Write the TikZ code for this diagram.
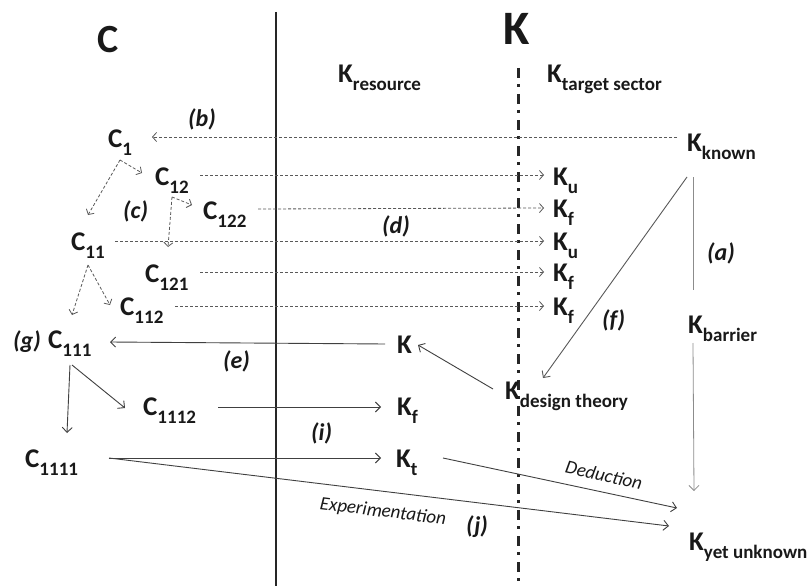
\documentclass[tikz,border=0pt]{standalone}
\usepackage{fontspec}
\setmainfont{Carlito}
\usetikzlibrary{arrows.meta}
\newcommand{\subx}[1]{\raisebox{-8pt}{\fontsize{19}{19}\selectfont #1}}
\begin{document}
\begin{tikzpicture}[x=1pt,y=-1pt,
  every node/.style={inner sep=0pt, anchor=base west, text=black!90},
  nm/.style={font=\fontsize{27}{27}\selectfont\bfseries},
  big/.style={font=\fontsize{#1}{#1}\selectfont\bfseries},
  tag/.style={font=\fontsize{24}{24}\selectfont\bfseries\itshape},
  capt/.style={font=\fontsize{19}{19}\selectfont\itshape, anchor=center},
  darr/.style={draw=black!65, line width=0.8pt, dash pattern=on 3pt off 2pt, -{Straight Barb[length=4pt,width=9pt]}},
  sarr/.style={draw=black!75, line width=0.9pt, -{Straight Barb[length=5pt,width=10pt]}},
  garr/.style={draw=black!45, line width=0.8pt},
]
\useasboundingbox (0,0) rectangle (812,586);
\fill[white] (0,0) rectangle (812,586);

% separators
\draw[line width=2pt, black!85] (276,12) -- (276,586);
\draw[line width=3pt, black!85, dash pattern=on 10pt off 6pt on 3pt off 7pt] (518,68) -- (518,586);

% headings
\node[big=40] (bigC) at (97,53) {C};
\node[big=48] (bigK) at (503,45) {K};
\node[nm] (kres) at (338,83) {K\subx{resource}};
\node[nm] (ktar) at (547,83) {K\subx{target sector}};

% C side
\node[nm] (c1) at (108,147) {C\subx{1}};
\node[nm] (c12) at (155,185) {C\subx{12}};
\node[nm] (c122) at (203,219) {C\subx{122}};
\node[nm] (c11) at (71,250) {C\subx{11}};
\node[nm] (c121) at (145,282) {C\subx{121}};
\node[nm] (c112) at (120,315) {C\subx{112}};
\node[nm] (c111) at (48,348) {C\subx{111}};
\node[nm] (c1112) at (143,415) {C\subx{1112}};
\node[nm] (c1111) at (25,467) {C\subx{1111}};

% K side
\node[nm] (kknown) at (687,151) {K\subx{known}};
\node[nm] (ku1) at (553,185) {K\subx{u}};
\node[nm] (kf1) at (553,217) {K\subx{f}};
\node[nm] (ku2) at (553,250) {K\subx{u}};
\node[nm] (kf2) at (553,281) {K\subx{f}};
\node[nm] (kf3) at (553,315) {K\subx{f}};
\node[nm] (kbar) at (688,333) {K\subx{barrier}};
\node[nm] (kmid) at (397,353) {K};
\node[nm] (kdes) at (505,399) {K\subx{design theory}};
\node[nm] (kf4) at (397,415) {K\subx{f}};
\node[nm] (kt) at (396,467) {K\subx{t}};
\node[nm] (kyet) at (689,550) {K\subx{yet unknown}};

% tags
\node[tag] (ta) at (707,260) {(a)};
\node[tag] (tb) at (188,127) {(b)};
\node[tag] (tc) at (123,218) {(c)};
\node[tag] (td) at (382,233) {(d)};
\node[tag] (te) at (223,368) {(e)};
\node[tag] (tf) at (602,327) {(f)};
\node[tag] (tg) at (13,348) {(g)};
\node[tag] (ti) at (311,440) {(i)};
\node[tag] (tj) at (466,533) {(j)};
\node[capt, rotate=-13] (ded) at (604,475) {Deduction};
\node[capt, rotate=-7] (exp) at (383,512) {Experimentation};

% dashed horizontal connectors
\draw[darr] ([shift={(-10,-14)}]kknown.base west) -- ([shift={(44,-10)}]c1.base west);
\draw[darr] ([shift={(45,-10)}]c12.base west) -- ([shift={(-9,-10)}]ku1.base west);
\draw[darr] ([shift={(55,-10)}]c122.base west) -- ([shift={(-9,-9)}]kf1.base west);
\draw[darr] ([shift={(44,-9)}]c11.base west) -- ([shift={(-9,-9)}]ku2.base west);
\draw[darr] ([shift={(55,-10)}]c121.base west) -- ([shift={(-9,-9)}]kf2.base west);
\draw[darr] ([shift={(55,-9)}]c112.base west) -- ([shift={(-9,-9)}]kf3.base west);

% dashed tree
\draw[darr] ([shift={(12,13)}]c1.base west) -- ([shift={(-13,-12)}]c12.base west);
\draw[darr] ([shift={(12,13)}]c1.base west) -- ([shift={(17,-35)}]c11.base west);
\draw[darr] ([shift={(17,12)}]c12.base west) -- ([shift={(-11,-14)}]c122.base west);
\draw[darr] ([shift={(17,12)}]c12.base west) -- ([shift={(23,-35)}]c121.base west);
\draw[darr] ([shift={(17,15)}]c11.base west) -- ([shift={(24,-33)}]c111.base west);
\draw[darr] ([shift={(17,15)}]c11.base west) -- ([shift={(-10,-10)}]c112.base west);

% solid connectors
\draw[sarr] ([shift={(-12,-9)}]kmid.base west) -- ([shift={(62,-6)}]c111.base west);
\draw[sarr] ([shift={(24,17)}]c111.base west) -- ([shift={(-18,-7)}]c1112.base west);
\draw[sarr] ([shift={(22,17)}]c111.base west) -- ([shift={(42,-34)}]c1111.base west);
\draw[sarr] ([shift={(75,-8)}]c1112.base west) -- ([shift={(-16,-8)}]kf4.base west);
\draw[sarr] ([shift={(84,-9)}]c1111.base west) -- ([shift={(-15,-9)}]kt.base west);
\draw[sarr] ([shift={(84,-9)}]c1111.base west) -- ([shift={(-20,-24)}]kyet.base west);
\draw[sarr] ([shift={(47,-9)}]kt.base west) -- ([shift={(-12,-42)}]kyet.base west);
\draw[sarr] ([shift={(-12,-10)}]kdes.base west) -- ([shift={(21,-8)}]kmid.base west);
\draw[sarr, draw=black!65] ([shift={(0,26)}]kknown.base west) -- ([shift={(38,-21)}]kdes.base west);

% grey vertical (a)
\draw[garr] ([shift={(6,26)}]kknown.base west) -- ([shift={(5,-43)}]kbar.base west);
\draw[garr, -{Straight Barb[length=5pt,width=10pt]}] ([shift={(5,10)}]kbar.base west) -- ([shift={(5,-59)}]kyet.base west);
\end{tikzpicture}
\end{document}
